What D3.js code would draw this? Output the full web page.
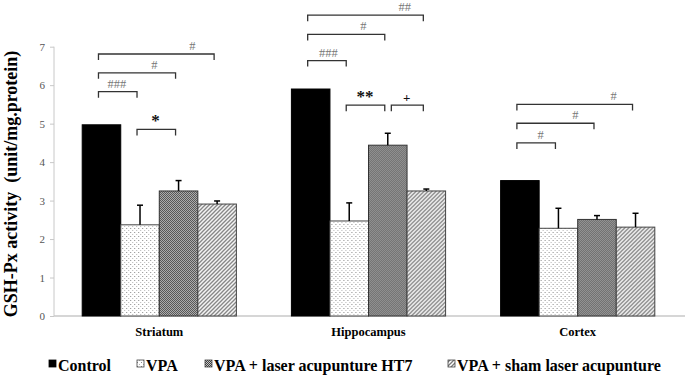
<!DOCTYPE html>
<html><head><meta charset="utf-8">
<script src="https://cdn.jsdelivr.net/npm/d3@7"></script>
<style>body{margin:0;background:#fff}svg{display:block}</style>
</head><body>
<svg id="chart" width="685" height="375"></svg>
<script>
const regions = ["Striatum", "Hippocampus", "Cortex"];
const groups = ["Control", "VPA", "VPA + laser acupunture HT7", "VPA + sham laser acupunture"];
const means = {
  "Striatum":    [4.97, 2.37, 3.25, 2.91],
  "Hippocampus": [5.90, 2.47, 4.44, 3.25],
  "Cortex":      [3.52, 2.28, 2.51, 2.31]
};
const errors = {
  "Striatum":    [0, 0.51, 0.27, 0.08],
  "Hippocampus": [0, 0.47, 0.31, 0.05],
  "Cortex":      [0, 0.52, 0.10, 0.36]
};
const yTicks = [0, 1, 2, 3, 4, 5, 6, 7];
const yTitle = "GSH-Px activity\u00a0\u00a0(unit/mg.protein)";
// significance brackets: region, from-group pos, to-group pos, level (data units), label, label pos
const brackets = [
  {r:"Striatum", a:0, b:1, v:5.83, t:"###", lp:0.40, k:"h"},
  {r:"Striatum", a:0, b:2, v:6.32, t:"#", lp:1.37, k:"h"},
  {r:"Striatum", a:0, b:3, v:6.81, t:"#", lp:2.36, k:"h"},
  {r:"Striatum", a:1, b:2, v:4.85, t:"*", lp:1.40, k:"s"},
  {r:"Hippocampus", a:0, b:1, v:6.64, t:"###", lp:0.46, k:"h"},
  {r:"Hippocampus", a:0, b:2, v:7.32, t:"#", lp:1.37, k:"h"},
  {r:"Hippocampus", a:0, b:3, v:7.82, t:"##", lp:2.44, k:"h"},
  {r:"Hippocampus", a:1, b:2, v:5.48, t:"**", lp:1.41, k:"s"},
  {r:"Hippocampus", a:2.17, b:3, v:5.48, t:"+", lp:2.49, k:"p"},
  {r:"Cortex", a:0, b:1, v:4.50, t:"#", lp:0.54, k:"h"},
  {r:"Cortex", a:0, b:2, v:5.01, t:"#", lp:1.44, k:"h"},
  {r:"Cortex", a:0, b:3, v:5.50, t:"#", lp:2.43, k:"h"}
];

const svg = d3.select("#chart");
const serif = "'Liberation Serif','Times New Roman',serif";

// patterns
const defs = svg.append("defs");
const pDot = defs.append("pattern").attr("id","pVPA").attr("patternUnits","userSpaceOnUse").attr("width",4).attr("height",4);
pDot.append("rect").attr("width",4).attr("height",4).attr("fill","#fff");
pDot.append("rect").attr("x",0).attr("y",0).attr("width",1).attr("height",1).attr("fill","#8a8a8a");
pDot.append("rect").attr("x",2).attr("y",2).attr("width",1).attr("height",1).attr("fill","#b5b5b5");
const pChk = defs.append("pattern").attr("id","pHT7").attr("patternUnits","userSpaceOnUse").attr("width",2).attr("height",2);
pChk.append("rect").attr("width",2).attr("height",2).attr("fill","#c8c8c8");
pChk.append("rect").attr("x",0).attr("y",0).attr("width",1).attr("height",1).attr("fill","#3c3c3c");
pChk.append("rect").attr("x",1).attr("y",1).attr("width",1).attr("height",1).attr("fill","#3c3c3c");
const pHat = defs.append("pattern").attr("id","pSham").attr("patternUnits","userSpaceOnUse").attr("width",4).attr("height",4);
pHat.append("rect").attr("width",4).attr("height",4).attr("fill","#fff");
pHat.append("path").attr("d","M-1,1 L1,-1 M0,4 L4,0 M3,5 L5,3").attr("stroke","#7a7a7a").attr("stroke-width",1.3);
const fills = ["#000", "url(#pVPA)", "url(#pHT7)", "url(#pSham)"];
const strokes = ["#000", "#444", "#333", "#444"];

const x0 = d3.scaleBand().domain(regions).range([55, 682]).paddingInner(0.263).paddingOuter(0.13);
const x1 = d3.scaleBand().domain(d3.range(groups.length)).range([0, x0.bandwidth()]);
const y = d3.scaleLinear().domain([0, 7]).range([316, 46.7]);

// y axis
const yAxis = svg.append("g").attr("transform","translate(54,0)")
  .call(d3.axisLeft(y).tickValues(yTicks).tickSize(4).tickPadding(5).tickFormat(d3.format("d")));
yAxis.select(".domain").attr("stroke","#c8c8c8").attr("d","M0,46.7V316");
yAxis.selectAll(".tick line").attr("stroke","#c8c8c8");
yAxis.selectAll(".tick text").attr("font-family",serif).attr("font-size",11).attr("fill","#555");

// baseline
svg.append("line").attr("x1",54).attr("x2",685).attr("y1",y(0)).attr("y2",y(0)).attr("stroke","#c8c8c8").attr("stroke-width",1.5);

// bars
regions.forEach(r => {
  const g = svg.append("g").attr("transform",`translate(${x0(r)},0)`);
  g.selectAll("rect").data(means[r]).join("rect")
    .attr("x",(d,i)=>x1(i)).attr("width",x1.bandwidth())
    .attr("y",d=>y(d)).attr("height",d=>y(0)-y(d))
    .attr("fill",(d,i)=>fills[i]).attr("stroke",(d,i)=>strokes[i]).attr("stroke-width",1);
  // error bars
  means[r].forEach((m,i)=>{
    const e = errors[r][i];
    if (!e) return;
    const cx = x1(i) + x1.bandwidth()/2;
    g.append("line").attr("x1",cx).attr("x2",cx).attr("y1",y(m)).attr("y2",y(m+e)).attr("stroke","#000").attr("stroke-width",1.5);
    g.append("line").attr("x1",cx-3).attr("x2",cx+3).attr("y1",y(m+e)).attr("y2",y(m+e)).attr("stroke","#000").attr("stroke-width",1.5);
  });
  // category label
  svg.append("text").attr("x",x0(r)+x0.bandwidth()/2).attr("y",336).attr("text-anchor","middle")
    .attr("font-family",serif).attr("font-weight","bold").attr("font-size",12.5).text(r);
});

// brackets
const bw = x1.bandwidth();
brackets.forEach(b => {
  const s = x0(b.r);
  const xa = s + (b.a+0.5)*bw - 3, xb = s + (b.b+0.5)*bw - 3;
  const yy = y(b.v);
  svg.append("path").attr("d",`M${xa},${yy+6}V${yy}H${xb}V${yy+6}`).attr("fill","none").attr("stroke","#333").attr("stroke-width",1.3);
  const lx = s + (b.lp+0.5)*bw;
  const t = svg.append("text").attr("x",lx).attr("text-anchor","middle").attr("font-family",serif).text(b.t);
  if (b.k==="h") t.attr("y",yy-4).attr("font-size",12.5).attr("fill","#777");
  else if (b.k==="s") t.attr("y",yy-3).attr("font-size",17).attr("font-weight","bold").attr("fill","#111");
  else t.attr("y",yy-3).attr("font-size",13).attr("font-weight","bold").attr("fill","#111");
});

// y title
svg.append("text").attr("transform",`translate(17,184) rotate(-90)`).attr("text-anchor","middle")
  .attr("font-family",serif).attr("font-weight","bold").attr("font-size",18).text(yTitle);

// legend
const legX = [49, 137, 205, 448];
const leg = svg.append("g");
groups.forEach((gname,i)=>{
  const lg = leg.append("g").attr("transform",`translate(${legX[i]},366)`);
  lg.append("rect").attr("x",0).attr("y",-6).attr("width",7).attr("height",7)
    .attr("fill",fills[i]).attr("stroke",i?"#444":"#000").attr("stroke-width",0.8);
  lg.append("text").attr("x",9).attr("y",5).attr("font-family",serif).attr("font-weight","bold").attr("font-size",16).text(gname);
});
</script>
</body></html>
